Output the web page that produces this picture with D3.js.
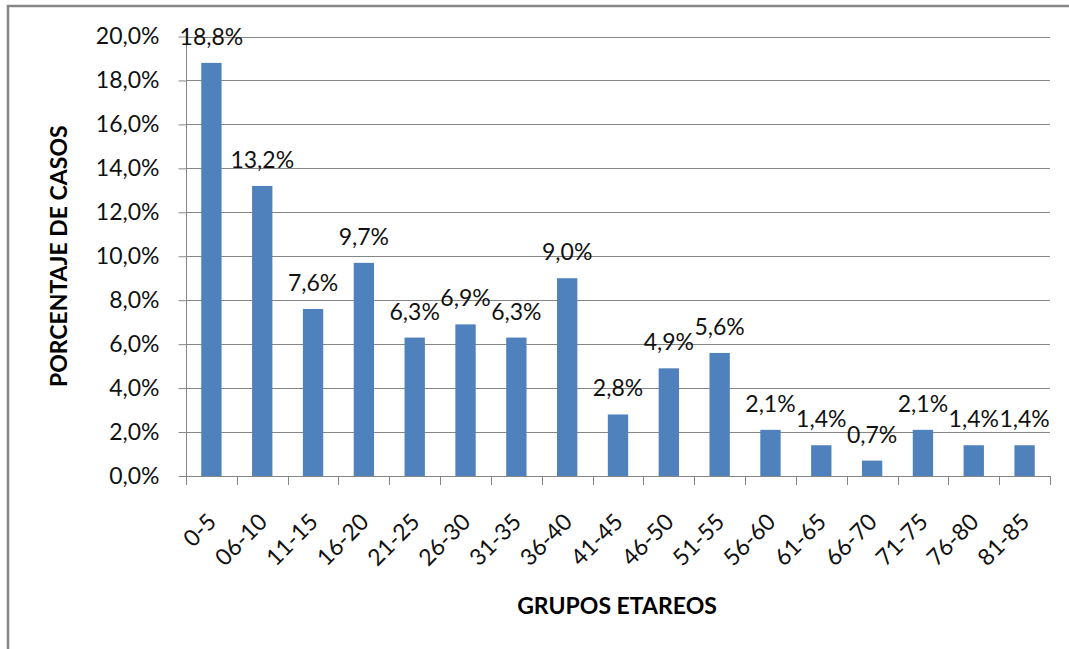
<!DOCTYPE html>
<html>
<head>
<meta charset="utf-8">
<script src="https://cdn.jsdelivr.net/npm/d3@7.9.0/dist/d3.min.js"></script>
<style>
  body { margin: 0; background: #fff; }
  svg { display: block; font-family: Lato, "Open Sans", sans-serif; }
</style>
</head>
<body>
<div id="chart"></div>
<script>
const groups = ['0-5', '06-10', '11-15', '16-20', '21-25', '26-30', '31-35', '36-40', '41-45',
    '46-50', '51-55', '56-60', '61-65', '66-70', '71-75', '76-80', '81-85'];
const percentages = [18.8, 13.2, 7.6, 9.7, 6.3, 6.9, 6.3, 9.0, 2.8, 4.9, 5.6, 2.1, 1.4, 0.7, 2.1, 1.4, 1.4];
const yTicks = [0, 2, 4, 6, 8, 10, 12, 14, 16, 18, 20];

const width = 1069;
const height = 649;
const margin = { top: 36.5, right: 19, bottom: 173, left: 186 };

const fmt = (v) => v.toFixed(1).replace('.', ',') + '%';

const svg = d3.select('#chart')
    .append('svg')
    .attr('width', width)
    .attr('height', height);

// outer chart border
svg.append('rect')
    .attr('x', 8).attr('y', 6)
    .attr('width', width).attr('height', height)
    .attr('fill', 'none')
    .attr('stroke', '#868686')
    .attr('stroke-width', 2.5);

const xScale = d3.scaleBand()
    .domain(groups)
    .range([margin.left, width - margin.right])
    .paddingInner(0.6)
    .paddingOuter(0.3);

const yScale = d3.scaleLinear()
    .domain([0, 20])
    .range([height - margin.bottom, margin.top]);

// gridlines
svg.append('g')
    .selectAll('line')
    .data(yTicks.slice(1))
    .join('line')
    .attr('x1', margin.left)
    .attr('x2', width - margin.right)
    .attr('y1', (d) => Math.round(yScale(d)) + 0.5)
    .attr('y2', (d) => Math.round(yScale(d)) + 0.5)
    .attr('stroke', '#868686')
    .attr('stroke-width', 1);

// bars
svg.append('g')
    .selectAll('rect')
    .data(percentages)
    .join('rect')
    .attr('x', (d, i) => xScale(groups[i]))
    .attr('y', (d) => yScale(d))
    .attr('width', xScale.bandwidth())
    .attr('height', (d) => yScale(0) - yScale(d))
    .attr('fill', '#4f81bd');

// y axis
const yAxis = d3.axisLeft(yScale)
    .tickValues(yTicks)
    .tickSize(8)
    .tickPadding(19)
    .tickFormat(fmt);

const yg = svg.append('g')
    .attr('transform', `translate(${margin.left + 0.5}, 0)`)
    .call(yAxis);
yg.select('.domain').attr('stroke', '#868686').attr('d', `M0,${yScale(20)}V${yScale(0)}`);
yg.selectAll('.tick line').attr('stroke', '#868686');
yg.selectAll('.tick text')
    .attr('fill', '#111')
    .style('font-size', '23px')
    .style('font-family', 'Lato, sans-serif');

// x axis with tick marks at band boundaries
const step = xScale.step();
const x0 = margin.left;
const xg = svg.append('g');
xg.append('line')
    .attr('x1', x0).attr('x2', width - margin.right)
    .attr('y1', Math.round(yScale(0)) + 0.5).attr('y2', Math.round(yScale(0)) + 0.5)
    .attr('stroke', '#868686');
xg.selectAll('line.tk')
    .data(d3.range(groups.length + 1))
    .join('line')
    .attr('class', 'tk')
    .attr('x1', (i) => Math.round(x0 + i * step) + 0.5)
    .attr('x2', (i) => Math.round(x0 + i * step) + 0.5)
    .attr('y1', yScale(0))
    .attr('y2', yScale(0) + 9)
    .attr('stroke', '#868686');

xg.selectAll('text')
    .data(groups)
    .join('text')
    .attr('transform', (d) => `translate(${xScale(d) + xScale.bandwidth() / 2 - 5}, ${yScale(0) + 36}) rotate(-45)`)
    .attr('text-anchor', 'end')
    .attr('dy', '0.7em')
    .attr('fill', '#111')
    .style('font-size', '23px')
    .text((d) => d);

// data labels
svg.append('g')
    .selectAll('text')
    .data(percentages)
    .join('text')
    .attr('x', (d, i) => xScale(groups[i]) + xScale.bandwidth() / 2)
    .attr('y', (d) => yScale(d) - 18)
    .attr('text-anchor', 'middle')
    .attr('fill', '#111')
    .style('font-size', '23px')
    .text(fmt);

// axis titles
svg.append('text')
    .attr('transform', `translate(67, ${(yScale(0) + yScale(20)) / 2}) rotate(-90)`)
    .attr('text-anchor', 'middle')
    .style('font-size', '23px')
    .style('font-weight', 'bold')
    .attr('fill', '#000')
    .text('PORCENTAJE DE CASOS');

svg.append('text')
    .attr('x', 617)
    .attr('y', 614)
    .attr('text-anchor', 'middle')
    .style('font-size', '23px')
    .style('font-weight', 'bold')
    .attr('fill', '#000')
    .text('GRUPOS ETAREOS');
</script>
</body>
</html>
